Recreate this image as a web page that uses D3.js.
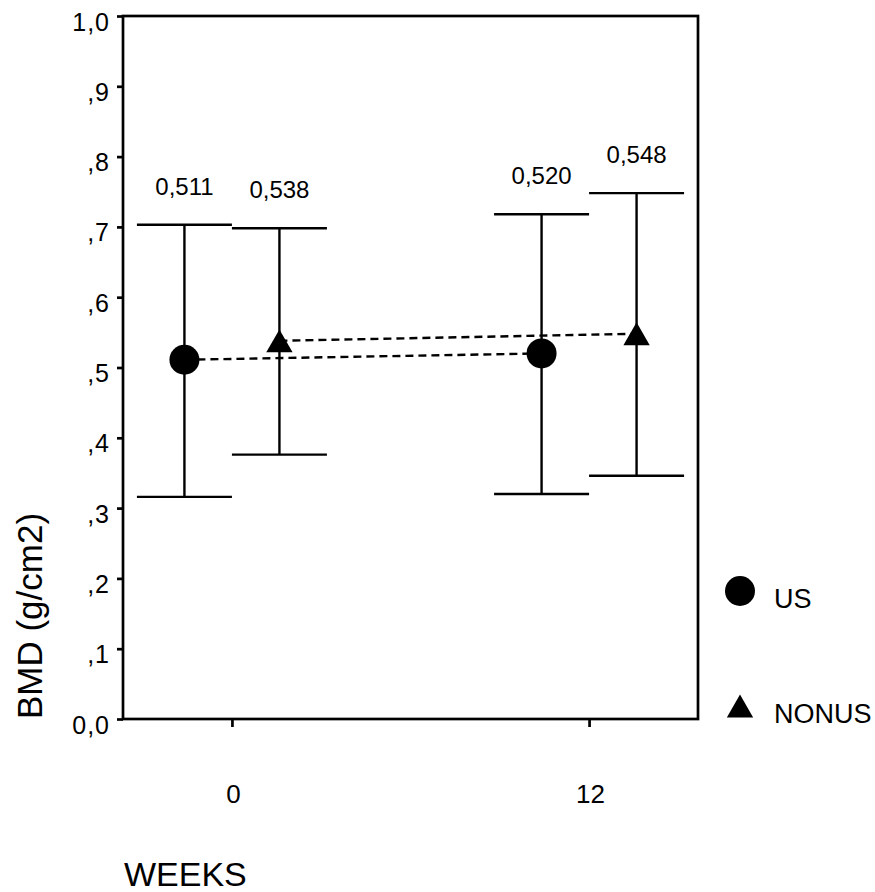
<!DOCTYPE html>
<html>
<head>
<meta charset="utf-8">
<script src="https://cdn.jsdelivr.net/npm/d3@7"></script>
<style>
  body { margin: 0; background: #fff; }
  text { font-family: Arial, "Liberation Sans", sans-serif; fill: #000; }
</style>
</head>
<body>
<div id="content"></div>
<script>
// data
const weeks = [0, 12];
const groups = ["US", "NONUS"];
const usMean = [0.511, 0.520];
const usUpper = [0.703, 0.718];
const usLower = [0.316, 0.320];
const nonusMean = [0.538, 0.548];
const nonusUpper = [0.698, 0.748];
const nonusLower = [0.376, 0.346];
const yTicks = [0, 0.1, 0.2, 0.3, 0.4, 0.5, 0.6, 0.7, 0.8, 0.9, 1.0];
const yTickLabels = ["0,0", ",1", ",2", ",3", ",4", ",5", ",6", ",7", ",8", ",9", "1,0"];

const width = 875, height = 892;
const plotLeft = 123, plotRight = 698, plotTop = 16, plotBottom = 719;
const groupOffset = { "US": -47.5, "NONUS": 47.5 };
const capHalf = 47.5;

const svg = d3.select("#content")
    .append("svg")
    .attr("width", width)
    .attr("height", height);

const y = d3.scaleLinear().domain([0, 1]).range([plotBottom, plotTop]);
const x = d3.scaleLinear().domain([-3.66, 15.66]).range([plotLeft, plotRight]);

const series = [
    { name: "US", mean: usMean, upper: usUpper, lower: usLower },
    { name: "NONUS", mean: nonusMean, upper: nonusUpper, lower: nonusLower }
];

const fmt = v => d3.format(".3f")(v).replace(".", ",");

// frame
svg.append("rect")
    .attr("x", plotLeft).attr("y", plotTop)
    .attr("width", plotRight - plotLeft).attr("height", plotBottom - plotTop)
    .attr("fill", "none")
    .attr("stroke", "#000")
    .attr("stroke-width", 2.7);

// y axis
const yAxis = svg.append("g")
    .attr("transform", "translate(" + plotLeft + ",0)")
    .call(d3.axisLeft(y).tickValues(yTicks).tickSize(6)
        .tickFormat((d, i) => yTickLabels[i]));
yAxis.select(".domain").remove();
yAxis.selectAll(".tick line").attr("stroke-width", 2.7);
yAxis.selectAll(".tick text")
    .attr("x", -13)
    .attr("dy", "14px")
    .style("font-size", "25px")
    .style("letter-spacing", "1px")
    .style("font-family", "Arial, 'Liberation Sans', sans-serif");

// x axis
const xAxis = svg.append("g")
    .attr("transform", "translate(0," + plotBottom + ")")
    .call(d3.axisBottom(x).tickValues(weeks).tickSize(8));
xAxis.select(".domain").remove();
xAxis.selectAll(".tick line").attr("stroke-width", 2.7);
xAxis.selectAll(".tick text")
    .attr("y", 84)
    .attr("dy", 0)
    .attr("dx", 1)
    .style("font-size", "26px")
    .style("font-family", "Arial, 'Liberation Sans', sans-serif");

// points, flat list
let points = [];
series.forEach(s => {
    weeks.forEach((w, i) => {
        points.push({
            name: s.name,
            px: x(w) + groupOffset[s.name],
            mean: s.mean[i], upper: s.upper[i], lower: s.lower[i]
        });
    });
});

// error bars
const bars = svg.append("g")
    .attr("stroke", "#000")
    .attr("stroke-width", 2.4);
bars.selectAll(".stem")
    .data(points).enter()
    .append("line")
    .attr("x1", d => d.px).attr("x2", d => d.px)
    .attr("y1", d => y(d.upper)).attr("y2", d => y(d.lower));
bars.selectAll(".capTop")
    .data(points).enter()
    .append("line")
    .attr("x1", d => d.px - capHalf).attr("x2", d => d.px + capHalf)
    .attr("y1", d => y(d.upper)).attr("y2", d => y(d.upper));
bars.selectAll(".capBottom")
    .data(points).enter()
    .append("line")
    .attr("x1", d => d.px - capHalf).attr("x2", d => d.px + capHalf)
    .attr("y1", d => y(d.lower)).attr("y2", d => y(d.lower));

// dashed connecting lines
const line = d3.line()
    .x((d, i) => x(weeks[i]) + groupOffset[d.name])
    .y(d => y(d.v));
series.forEach(s => {
    svg.append("path")
        .datum(s.mean.map(v => ({ name: s.name, v: v })))
        .attr("d", line)
        .attr("fill", "none")
        .attr("stroke", "#000")
        .attr("stroke-width", 2.4)
        .attr("stroke-dasharray", "8,5");
});

// markers
const tri = d3.symbol(d3.symbolTriangle, 300);
function drawMarker(g, name, cx, cy) {
    if (name === "US") {
        g.append("circle")
            .attr("cx", cx).attr("cy", cy).attr("r", 15)
            .attr("fill", "#000");
    } else {
        g.append("path")
            .attr("d", tri())
            .attr("transform", "translate(" + cx + "," + (cy + 3.8) + ")")
            .attr("fill", "#000");
    }
}
const markers = svg.append("g");
points.forEach(d => drawMarker(markers, d.name, d.px, y(d.mean)));

// value labels
svg.append("g")
    .selectAll("text")
    .data(points).enter()
    .append("text")
    .attr("x", d => d.px)
    .attr("y", d => y(d.upper) - 30)
    .attr("text-anchor", "middle")
    .style("font-size", "24px")
    .text(d => fmt(d.mean));

// legend
const legendY = { "US": 591, "NONUS": 706 };
const legend = svg.append("g");
groups.forEach(g => {
    drawMarker(legend, g, 740, legendY[g]);
    legend.append("text")
        .attr("x", 774)
        .attr("y", legendY[g] + 17)
        .style("font-size", "27px")
        .text(g);
});

// axis titles
svg.append("text")
    .attr("transform", "translate(42,616) rotate(-90)")
    .attr("text-anchor", "middle")
    .style("font-size", "35px")
    .text("BMD (g/cm2)");

svg.append("text")
    .attr("x", 124)
    .attr("y", 886)
    .style("font-size", "34px")
    .text("WEEKS");
</script>
</body>
</html>
